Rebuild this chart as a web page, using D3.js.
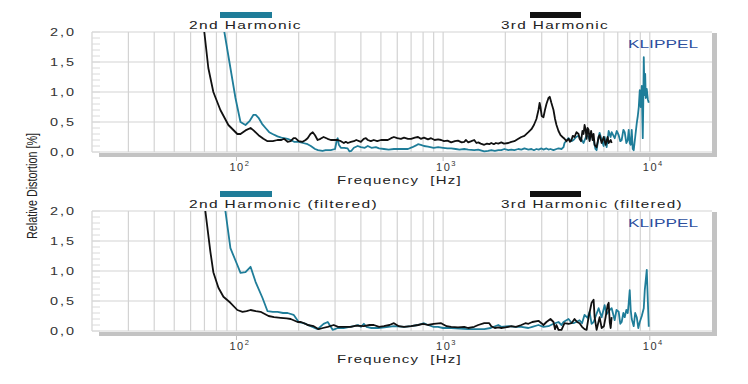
<!DOCTYPE html>
<html>
<head>
<meta charset="utf-8">
<script src="https://cdn.jsdelivr.net/npm/d3@7"></script>
<style>
  body { margin: 0; background: #fff; }
  svg { display: block; font-family: "Liberation Sans", Arial, sans-serif; }
</style>
</head>
<body>
<div id="chart"></div>
<script>
// tick labels and legend texts
const yTicks = [0, 0.5, 1, 1.5, 2];
const yTickLabels = ["0,0", "0,5", "1,0", "1,5", "2,0"];
const decades = [100, 1000, 10000];
const decadeExp = ["2", "3", "4"];
const legendTop = ["2nd Harmonic", "3rd Harmonic"];
const legendBottom = ["2nd Harmonic (filtered)", "3rd Harmonic (filtered)"];

// [frequency Hz, distortion %]
const h2Top = [[84,2.6],[87.4,2.0],[93.5,1.4],[98.9,0.9],[104.6,0.5],[110.6,0.45],[116,0.52],[120.9,0.62],[124,0.62],[127.9,0.57],[133,0.47],[138.3,0.40],[144,0.33],[149.5,0.30],[158,0.26],[165,0.24],[176.8,0.22],[183,0.20],[190,0.17],[200,0.17],[210,0.15],[221,0.13],[229,0.10],[240,0.05],[248,0.03],[261,0.02],[270,0.03],[286,0.03],[300,0.05],[306,0.20],[309,0.23],[313,0.12],[320,0.07],[332,0.07],[345,0.06],[352,0.01],[360,0.02],[370,0.07],[386,0.10],[400,0.08],[418,0.07],[432,0.10],[450,0.07],[473,0.08],[490,0.06],[517,0.05],[545,0.04],[578,0.05],[615,0.05],[647,0.05],[676,0.05],[710,0.08],[740,0.11],[756,0.13],[780,0.12],[808,0.10],[845,0.09],[900,0.07],[946,0.08],[1000,0.07],[1050,0.06],[1094,0.06],[1150,0.05],[1200,0.04],[1265,0.05],[1323,0.04],[1414,0.03],[1479,0.04],[1581,0.01],[1650,0.02],[1710,0.03],[1780,0.02],[1849,0.03],[1912,0.03],[1980,0.05],[2068,0.03],[2138,0.04],[2211,0.03],[2312,0.05],[2391,0.04],[2474,0.06],[2586,0.04],[2675,0.05],[2750,0.03],[2828,0.05],[2900,0.04],[2991,0.06],[3058,0.04],[3162,0.06],[3234,0.04],[3307,0.05],[3420,0.03],[3536,0.05],[3616,0.06],[3740,0.05],[3824,0.08],[3867,0.15],[4044,0.23],[4181,0.18],[4276,0.20],[4400,0.25],[4522,0.27],[4650,0.22],[4782,0.15],[4944,0.28],[5057,0.25],[5113,0.20],[5229,0.30],[5347,0.20],[5460,0.05],[5530,0.03],[5655,0.25],[5718,0.32],[5850,0.20],[5980,0.10],[6047,0.25],[6183,0.08],[6324,0.35],[6460,0.25],[6539,0.33],[6764,0.23],[6920,0.35],[7072,0.28],[7200,0.18],[7311,0.20],[7450,0.37],[7562,0.33],[7700,0.15],[7822,0.20],[7907,0.37],[8000,0.15],[8086,0.12],[8177,0.37],[8270,0.05],[8361,0.03],[8500,0.25],[8649,0.48],[8750,0.60],[8845,0.75],[8944,1.03],[9040,0.75],[9147,1.10],[9200,0.60],[9247,0.23],[9300,0.80],[9352,1.58],[9400,1.20],[9456,0.95],[9500,1.30],[9563,0.90],[9669,1.05],[9779,0.88],[9888,0.82]];

const h3Top = [[66,2.6],[69.9,2.0],[73.1,1.4],[77.3,1.0],[83.6,0.7],[91.4,0.45],[101,0.30],[104.6,0.30],[110.6,0.36],[117,0.40],[121,0.36],[127.9,0.28],[135,0.22],[141.4,0.18],[150,0.18],[158,0.20],[165,0.20],[170,0.22],[176.8,0.17],[183,0.18],[189,0.23],[193,0.23],[200,0.18],[209,0.17],[216,0.20],[221,0.23],[228,0.30],[234,0.33],[240,0.28],[247,0.20],[255,0.22],[264,0.25],[276,0.22],[286,0.20],[295,0.20],[309,0.20],[320,0.18],[331,0.15],[338,0.17],[346,0.15],[358,0.17],[370,0.18],[380,0.20],[400,0.17],[413,0.22],[423,0.23],[432,0.20],[447,0.18],[462,0.20],[480,0.18],[500,0.20],[517,0.20],[540,0.20],[560,0.23],[578,0.25],[600,0.23],[625,0.22],[647,0.24],[676,0.22],[700,0.22],[730,0.24],[756,0.25],[780,0.22],[808,0.24],[845,0.21],[874,0.23],[910,0.20],[946,0.21],[978,0.20],[1010,0.18],[1050,0.19],[1094,0.16],[1140,0.18],[1180,0.19],[1230,0.16],[1265,0.17],[1290,0.20],[1323,0.16],[1370,0.18],[1414,0.20],[1450,0.15],[1480,0.16],[1520,0.14],[1581,0.12],[1630,0.14],[1672,0.13],[1710,0.15],[1760,0.13],[1800,0.15],[1849,0.14],[1912,0.16],[1970,0.14],[2068,0.15],[2138,0.17],[2211,0.18],[2312,0.22],[2391,0.25],[2474,0.27],[2586,0.33],[2675,0.38],[2750,0.45],[2828,0.55],[2893,0.70],[2930,0.82],[2958,0.75],[3000,0.60],[3058,0.58],[3110,0.70],[3162,0.80],[3234,0.90],[3280,0.92],[3340,0.82],[3420,0.70],[3480,0.55],[3536,0.45],[3616,0.35],[3700,0.28],[3780,0.25],[3867,0.22],[3950,0.18],[4044,0.22],[4110,0.17],[4181,0.20],[4240,0.27],[4324,0.25],[4420,0.33],[4522,0.30],[4573,0.22],[4650,0.18],[4720,0.35],[4782,0.30],[4835,0.45],[4890,0.38],[4944,0.22],[5000,0.40],[5057,0.37],[5113,0.18],[5200,0.35],[5288,0.20],[5347,0.30],[5408,0.12],[5530,0.08],[5655,0.25],[5718,0.28],[5848,0.15],[5980,0.25],[6114,0.12],[6250,0.25],[6324,0.15],[6470,0.20],[6539,0.15]];

const h2Bottom = [[84,2.6],[88.4,2.0],[93.5,1.38],[101,1.1],[104.6,0.97],[110.6,0.98],[117,1.07],[123.7,0.82],[133.7,0.55],[141.4,0.33],[150,0.32],[158,0.32],[168,0.30],[176.8,0.30],[189,0.27],[200,0.15],[211.5,0.13],[228.7,0.08],[247,0.03],[264,0.12],[276.5,0.15],[292,0.02],[310,0.05],[330,0.05],[353,0.07],[370,0.08],[387,0.10],[400,0.07],[413.5,0.12],[425,0.07],[450,0.05],[483.6,0.05],[520,0.06],[578,0.08],[646.8,0.07],[700,0.08],[756,0.10],[808,0.13],[845,0.10],[900,0.07],[945,0.07],[1000,0.05],[1094,0.05],[1200,0.04],[1323,0.03],[1414,0.03],[1581,0.03],[1700,0.05],[1849,0.10],[1912,0.07],[2068,0.08],[2211,0.07],[2391,0.07],[2586,0.05],[2700,0.07],[2893,0.10],[3058,0.07],[3234,0.08],[3420,0.12],[3616,0.15],[3740,0.10],[3824,0.15],[4044,0.20],[4200,0.13],[4276,0.13],[4573,0.18],[4700,0.13],[4835,0.27],[5000,0.22],[5113,0.32],[5229,0.12],[5347,0.15],[5655,0.38],[5848,0.23],[6047,0.43],[6183,0.28],[6324,0.33],[6539,0.38],[6764,0.18],[6900,0.35],[7072,0.32],[7200,0.12],[7311,0.15],[7450,0.30],[7562,0.23],[7700,0.35],[7822,0.30],[7900,0.45],[7996,0.68],[8086,0.35],[8177,0.20],[8361,0.08],[8500,0.30],[8649,0.23],[8800,0.05],[8944,0.15],[9147,0.25],[9352,0.38],[9456,0.68],[9669,1.02],[9779,0.52],[9888,0.07]];

const h3Bottom = [[66,2.6],[70.7,2.0],[74.8,1.32],[77.3,0.98],[81.8,0.72],[86.5,0.57],[93.5,0.47],[101,0.35],[107,0.32],[112,0.33],[117,0.35],[124,0.33],[130.8,0.32],[143,0.25],[152,0.23],[163.6,0.22],[175,0.21],[183,0.20],[197.8,0.15],[205,0.15],[216,0.12],[221,0.10],[236.5,0.08],[250,0.03],[262,0.05],[276.5,0.07],[295.7,0.10],[310,0.07],[330.7,0.07],[357.6,0.07],[380,0.09],[413.5,0.08],[440,0.10],[462,0.10],[490,0.07],[517,0.08],[550,0.10],[578,0.13],[610,0.08],[646.8,0.07],[700,0.08],[756,0.10],[800,0.12],[845,0.10],[900,0.12],[977.9,0.13],[1040,0.08],[1094,0.07],[1180,0.06],[1265,0.07],[1323,0.05],[1414,0.07],[1479,0.10],[1581,0.13],[1672,0.13],[1710,0.08],[1780,0.05],[1849,0.06],[1912,0.05],[2000,0.06],[2068,0.07],[2138,0.08],[2250,0.07],[2391,0.10],[2500,0.13],[2586,0.12],[2700,0.15],[2893,0.17],[2991,0.13],[3058,0.10],[3162,0.15],[3307,0.20],[3420,0.15],[3480,0.03],[3536,0.10],[3616,0.02],[3740,0.02],[3867,0.13],[4044,0.12],[4181,0.13],[4324,0.20],[4450,0.15],[4573,0.13],[4700,0.07],[4835,0.03],[4944,0.02],[5057,0.23],[5229,0.47],[5347,0.52],[5408,0.23],[5530,0.02],[5718,0.23],[5850,0.05],[6000,0.08],[6114,0.23],[6252,0.43],[6324,0.47],[6400,0.15],[6467,0.05],[6539,0.23]];

const W = 748, H = 384;
const teal = "#1f7d99", black = "#111";
const gridColor = "#d3d3d3", shadow = "#c3c3c3";

const svg = d3.select("#chart").append("svg")
    .attr("width", W).attr("height", H);

const x = d3.scaleLog().domain([20, 20000]).range([92, 712]);

// stretched text, the original uses a wide letter-spaced face
function wideText(sel, len) {
    return sel.attr("textLength", len).attr("lengthAdjust", "spacingAndGlyphs");
}

function drawPanel(top, h2, h3, legend, id) {
    const y = d3.scaleLinear().domain([0, 2]).range([top + 120, top]);
    const g = svg.append("g");

    // gray shadow under and right of the plot
    g.append("rect").attr("x", 99).attr("y", y(0) + 1).attr("width", 618).attr("height", 4).attr("fill", shadow);
    g.append("rect").attr("x", 712).attr("y", top + 1).attr("width", 5).attr("height", 124).attr("fill", shadow);

    // grid
    const gridF = x.ticks().filter(f => f > 20 && f < 20000);
    g.append("g").selectAll("line").data(gridF).join("line")
        .attr("x1", d => x(d)).attr("x2", d => x(d))
        .attr("y1", y(2)).attr("y2", y(0))
        .attr("stroke", gridColor).attr("stroke-width", 1.2);
    g.append("g").selectAll("line").data(yTicks).join("line")
        .attr("x1", 92).attr("x2", 712)
        .attr("y1", d => y(d)).attr("y2", d => y(d))
        .attr("stroke", gridColor).attr("stroke-width", 1.2);
    g.append("line").attr("x1", 92).attr("x2", 92).attr("y1", y(2)).attr("y2", y(0))
        .attr("stroke", gridColor).attr("stroke-width", 1.2);
    g.append("g").selectAll("line").data(d3.range(0, 21)).join("line")
        .attr("x1", 92).attr("x2", 100)
        .attr("y1", d => y(d / 10)).attr("y2", d => y(d / 10))
        .attr("stroke", "#dadada");

    // y labels
    g.append("g").selectAll("text").data(yTicks).join("text")
        .attr("x", 76).attr("y", d => y(d) + 4)
        .attr("text-anchor", "end")
        .attr("font-size", 11).attr("fill", "#333")
        .attr("letter-spacing", 1.5)
        .call(wideText, 26)
        .text((d, i) => yTickLabels[i]);

    // decade ticks and labels
    g.append("g").selectAll("line").data(decades).join("line")
        .attr("x1", d => x(d)).attr("x2", d => x(d))
        .attr("y1", y(0) + 5).attr("y2", y(0) + 9)
        .attr("stroke", "#bbb");
    const dl = g.append("g").selectAll("text").data(decades).join("text")
        .attr("x", d => x(d) - 7).attr("y", y(0) + 19)
        .attr("font-size", 11).attr("fill", "#333")
        .attr("letter-spacing", 1.5);
    dl.append("tspan").text("10");
    dl.append("tspan").attr("dy", -5).attr("font-size", 7.5).text((d, i) => decadeExp[i]);

    g.append("text").attr("x", 337).attr("y", y(0) + 32)
        .attr("font-size", 11.5).attr("fill", "#222")
        .attr("letter-spacing", 1)
        .attr("xml:space", "preserve")
        .call(wideText, 125)
        .text("Frequency  [Hz]");

    // legend
    g.append("rect").attr("x", 220).attr("y", top - 20).attr("width", 52).attr("height", 6).attr("fill", teal);
    g.append("rect").attr("x", 530).attr("y", top - 20).attr("width", 51).attr("height", 6).attr("fill", black);
    g.append("text").attr("x", 189).attr("y", top - 3)
        .attr("font-size", 11.5).attr("fill", "#222")
        .attr("letter-spacing", 1)
        .call(wideText, legend[0].length > 14 ? 189 : 113)
        .text(legend[0]);
    g.append("text").attr("x", 501).attr("y", top - 3)
        .attr("font-size", 11.5).attr("fill", "#222")
        .attr("letter-spacing", 1)
        .call(wideText, legend[1].length > 14 ? 182 : 108)
        .text(legend[1]);

    g.append("text").attr("x", 628).attr("y", top + 16)
        .attr("font-size", 10.5).attr("fill", "#2d4f9e")
        .call(wideText, 70)
        .text("KLIPPEL");

    // curves
    svg.append("clipPath").attr("id", id)
        .append("rect").attr("x", 92).attr("y", top).attr("width", 620).attr("height", 121);
    const line = d3.line().x(d => x(d[0])).y(d => y(d[1]));
    const curves = g.append("g").attr("clip-path", `url(#${id})`);
    curves.append("path").datum(h2).attr("d", line)
        .attr("fill", "none").attr("stroke", teal).attr("stroke-width", 1.8).attr("stroke-linejoin", "round");
    curves.append("path").datum(h3).attr("d", line)
        .attr("fill", "none").attr("stroke", black).attr("stroke-width", 1.8).attr("stroke-linejoin", "round");
}

drawPanel(32, h2Top, h3Top, legendTop, "clipTop");
drawPanel(211, h2Bottom, h3Bottom, legendBottom, "clipBottom");

svg.append("text")
    .attr("transform", "translate(37,186) rotate(-90)")
    .attr("text-anchor", "middle")
    .attr("font-family", "'Liberation Sans Narrow', 'Liberation Sans', sans-serif")
    .attr("font-size", 14).attr("fill", "#222")
    .call(wideText, 106)
    .text("Relative Distortion [%]");
</script>
</body>
</html>
